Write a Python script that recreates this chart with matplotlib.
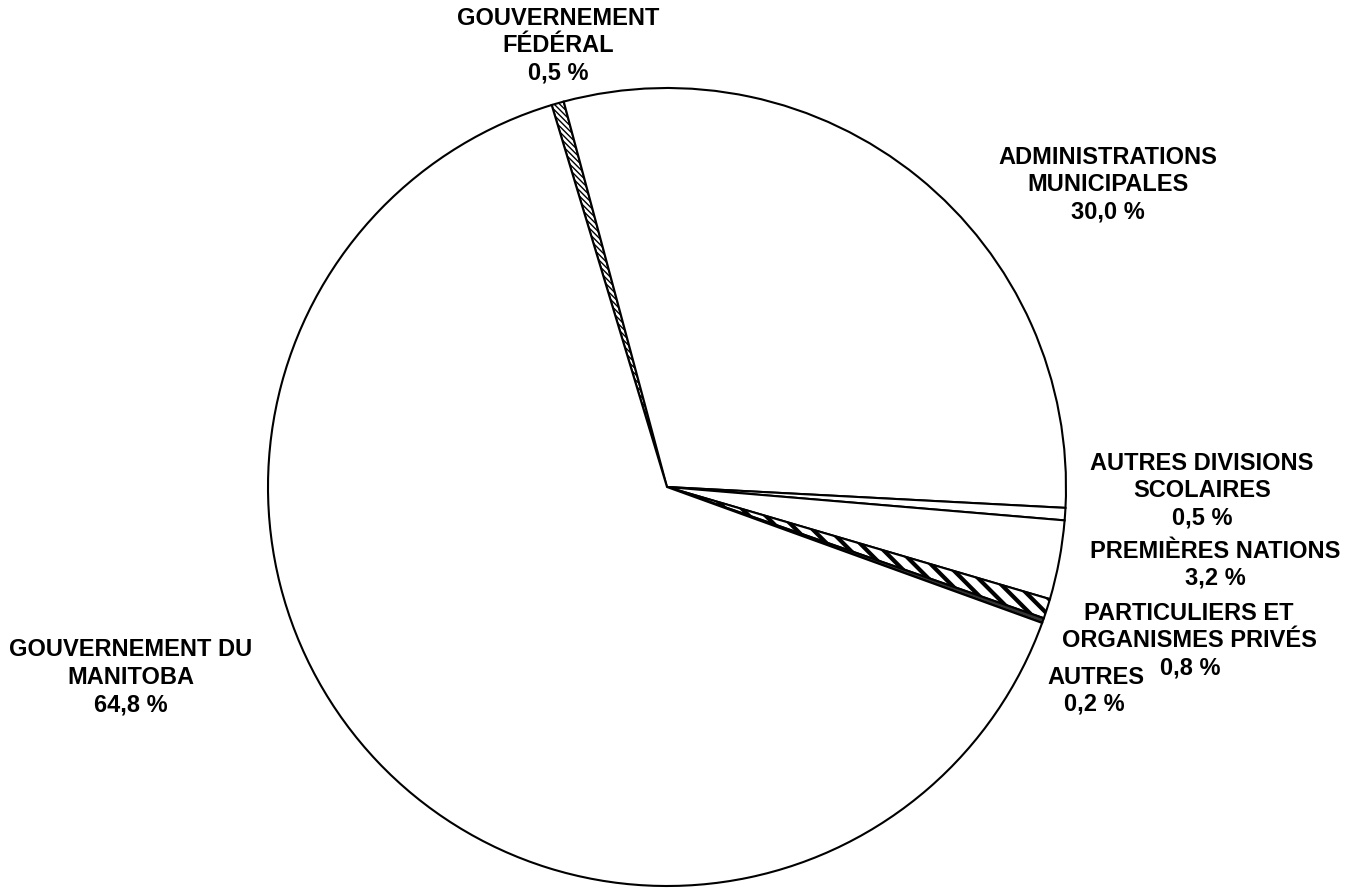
import matplotlib
matplotlib.use('Agg')
import matplotlib.pyplot as plt

labels = ['GOUVERNEMENT\nFÉDÉRAL', 'ADMINISTRATIONS\nMUNICIPALES', 'AUTRES DIVISIONS\nSCOLAIRES',
          'PREMIÈRES NATIONS', 'PARTICULIERS ET\nORGANISMES PRIVÉS', 'AUTRES', 'GOUVERNEMENT DU\nMANITOBA']
values = [0.5, 30.0, 0.5, 3.2, 0.8, 0.2, 64.8]
pct_text = ['0,5 %', '30,0 %', '0,5 %', '3,2 %', '0,8 %', '0,2 %', '64,8 %']
colors = ['white', 'white', 'white', 'white', 'white', '#333333', 'white']
hatches = ['\\\\\\\\\\\\', None, None, None, '\\\\', None, None]

plt.rcParams['font.family'] = ['Liberation Sans', 'DejaVu Sans']

W, H = 1345, 888
fig = plt.figure(figsize=(W / 100, H / 100), dpi=100)
ax = fig.add_axes([0, 0, 1, 1])

wedges, _ = ax.pie(values, startangle=106.8, counterclock=False, colors=colors,
                   center=(667, H - 487), radius=399, frame=True,
                   wedgeprops=dict(edgecolor='black', linewidth=1.5))
ax.set_xlim(0, W)
ax.set_ylim(0, H)
ax.set_aspect('equal')
ax.axis('off')
for w, h in zip(wedges, hatches):
    if h:
        w.set_hatch(h)
        if hasattr(w, 'set_hatch_linewidth'):
            w.set_hatch_linewidth(1.0 if len(h) > 3 else 3.0)

# label placement: centre x, y of first line (pixels from top), x offset of the percentage
pos = [(558, 18), (1108, 157), (1202, 463), (1215, 551), (1189, 613), (1096, 677), (131, 650)]
pct_dx = [0, 0, 0, 0, 1, -2, 0]
step = 27.3
for (x, y), lab, p, dx in zip(pos, labels, pct_text, pct_dx):
    lines = lab.split('\n') + [p]
    for k, line in enumerate(lines):
        xx = x + dx if k == len(lines) - 1 else x
        ax.text(xx, H - (y + k * step), line, fontsize=17, fontweight='bold',
                ha='center', va='center')

fig.savefig('out.png', dpi=100)
